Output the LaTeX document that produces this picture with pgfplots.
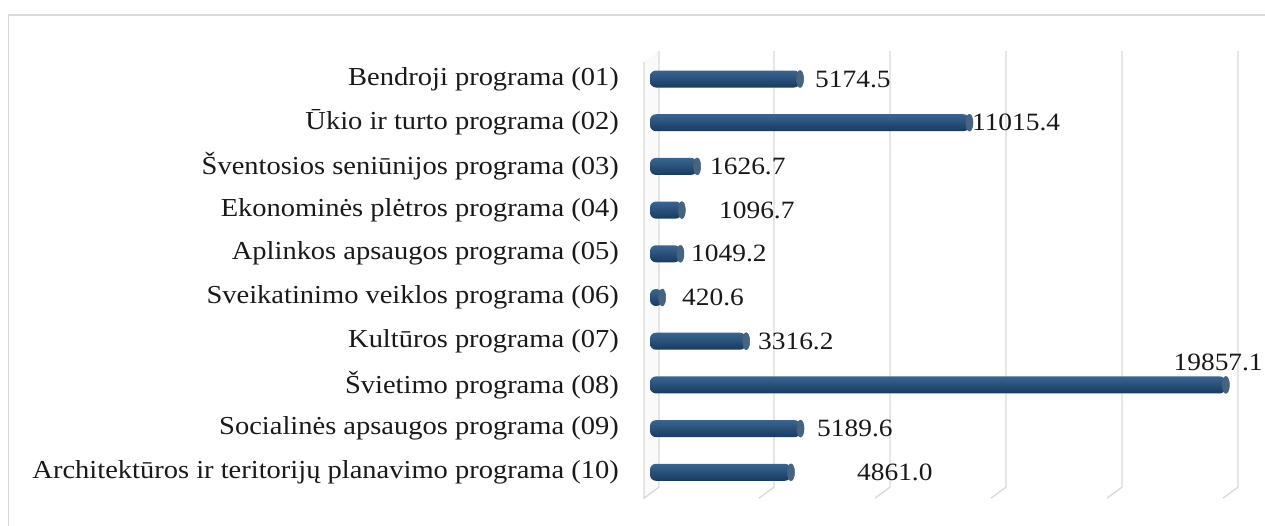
\documentclass[border=0pt]{standalone}
\usepackage{fontspec}
\setmainfont[FakeStretch=1.1]{Liberation Serif}
\usepackage{pgfplots}
\pgfplotsset{compat=1.18}
\definecolor{gridc}{HTML}{D9D9D9}
\definecolor{barTop}{HTML}{3A6590}
\definecolor{barMid}{HTML}{1F4F82}
\definecolor{barBot}{HTML}{183A60}
\definecolor{capc}{HTML}{46637F}
\pgfplotstableread{
x y lab
5690 0 5174.5
11100 1 11015.4
2069 2 1626.7
2379 3 1096.7
1414 4 1049.2
1103 5 420.6
3724 6 3316.2
18050 6.48 19857.1
5759 8 5189.6
7138 9 4861.0
}\labtable
\pgfplotstableread{
v y
5174.5 0
11015.4 1
1626.7 2
1096.7 3
1049.2 4
420.6 5
3316.2 6
19857.1 7
5189.6 8
4861.0 9
}\bartable
\newcommand{\cylbar}[2]{%
  \addplot[xbar, bar shift=0pt, bar width=17bp, draw=none, top color=barTop, middle color=barMid, bottom color=barBot, rounded corners=6bp] coordinates {(#1,#2)};%
}
\begin{document}
\begin{tikzpicture}
\path[use as bounding box] (0bp,0bp) rectangle (1265bp,526bp);
\draw[gridc, line width=1.3bp] (8.5bp,-2bp) -- (8.5bp,511bp) -- (1268bp,511bp);
\begin{axis}[at={(650bp,10bp)}, anchor=south west, scale only axis,
  width=580bp, height=480.7bp,
  xmin=0, xmax=20000, ymin=-1, ymax=10, y dir=reverse, clip=false,
  axis line style={draw=none}, major tick length=0pt,
  xtick=\empty, ytick={0,...,9},
  yticklabels={Bendroji programa (01),
    Ūkio ir turto programa (02),
    Šventosios seniūnijos programa (03),
    Ekonominės plėtros programa (04),
    Aplinkos apsaugos programa (05),
    Sveikatinimo veiklos programa (06),
    Kultūros programa (07),
    Švietimo programa (08),
    Socialinės apsaugos programa (09),
    Architektūros ir teritorijų planavimo programa (10)},
  yticklabel style={font=\fontsize{26}{30}\selectfont, anchor=east, inner sep=0pt, xshift=-31bp, text=black!90},
]
% left wall
\fill[white!96!gray] ([xshift=-6bp]axis cs:0,-0.39) -- ([xshift=-6bp,yshift=-11bp]axis cs:0,9.34) -- ([xshift=9bp]axis cs:0,9.34) -- ([xshift=9bp]axis cs:0,-0.64) -- cycle;
\draw[gridc, line width=1.3bp] ([xshift=-6bp]axis cs:0,-0.39) -- ([xshift=-6bp,yshift=-11bp]axis cs:0,9.34) -- ([xshift=9bp]axis cs:0,9.34) -- ([xshift=9bp]axis cs:0,-0.64);
\pgfplotsinvokeforeach{4000,8000,12000,16000,20000}{
  \draw[gridc, line width=1.3bp] ([xshift=8bp]axis cs:#1,-0.64) -- ([xshift=8bp]axis cs:#1,9.34) -- ([xshift=-7bp,yshift=-11bp]axis cs:#1,9.34);
}
\cylbar{5174.5}{0}
\cylbar{11015.4}{1}
\cylbar{1626.7}{2}
\cylbar{1096.7}{3}
\cylbar{1049.2}{4}
\cylbar{420.6}{5}
\cylbar{3316.2}{6}
\cylbar{19857.1}{7}
\cylbar{5189.6}{8}
\cylbar{4861.0}{9}
\addplot[only marks, mark=*, mark size=8.5bp, mark options={xscale=0.42, fill=capc, draw=barBot!80!white, line width=0.5bp}] table[x=v, y=y] {\bartable};
\addplot[draw=none, mark=none, nodes near coords, point meta=explicit symbolic,
  every node near coord/.append style={anchor=west, inner sep=0pt, text=black!90, font=\fontsize{25}{30}\selectfont}]
  table[x=x, y=y, meta=lab] {\labtable};
\end{axis}
\end{tikzpicture}
\end{document}
